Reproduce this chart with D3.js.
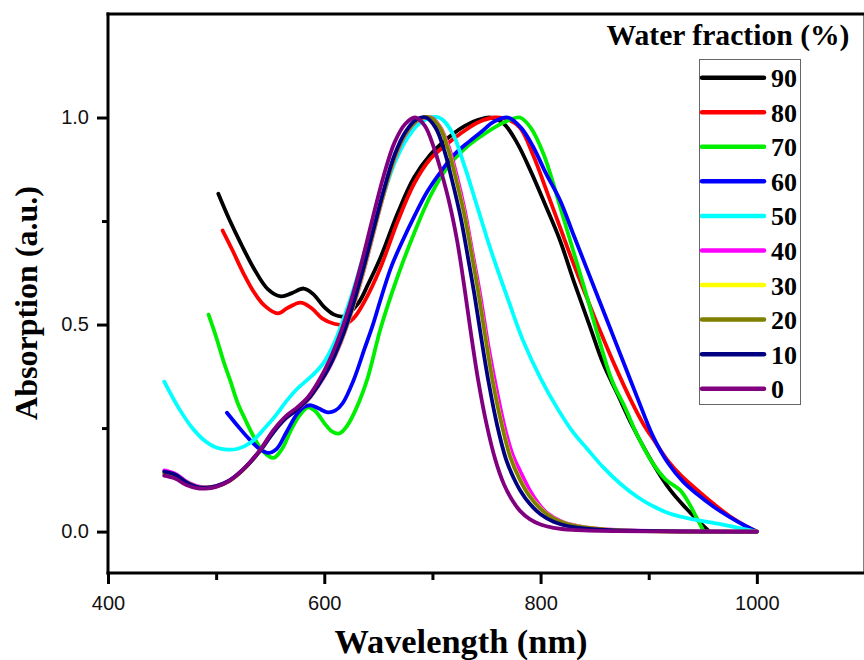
<!DOCTYPE html>
<html>
<head>
<meta charset="utf-8">
<script src="https://cdn.jsdelivr.net/npm/d3@7"></script>
<style>
  html, body { margin: 0; padding: 0; background: #fff; }
  svg { display: block; }
</style>
</head>
<body>
<svg id="chart" width="864" height="660"></svg>
<script>
// Normalised absorption spectra, [wavelength (nm), absorbance]
const spec90 = [[502,0.816],[512,0.755],[523,0.695],[535,0.635],[548,0.585],[560,0.568],[570,0.576],[581,0.587],[590,0.573],[600,0.542],[609,0.524],[618,0.52],[631,0.55],[641,0.6],[652,0.662],[668,0.77],[683,0.855],[698,0.91],[714,0.95],[730,0.98],[743,0.995],[754,1.0],[766,0.985],[778,0.94],[791,0.87],[805,0.785],[818,0.703],[830,0.61],[845,0.5],[858,0.405],[871,0.333],[885,0.255],[904,0.164],[920,0.1],[935,0.055],[945,0.028],[955,0.003]];
const spec80 = [[506,0.727],[515,0.68],[525,0.625],[535,0.578],[545,0.545],[557,0.527],[566,0.54],[578,0.553],[588,0.54],[598,0.515],[609,0.502],[618,0.5],[627,0.515],[637,0.555],[652,0.638],[668,0.75],[683,0.84],[698,0.9],[714,0.937],[728,0.965],[742,0.988],[757,1.0],[770,0.995],[781,0.975],[793,0.91],[806,0.82],[818,0.735],[830,0.65],[842,0.57],[855,0.485],[868,0.405],[883,0.32],[895,0.26],[905,0.22],[918,0.17],[930,0.135],[945,0.1],[960,0.067],[975,0.037],[990,0.013],[1000,0.0]];
const spec70 = [[493,0.524],[500,0.47],[507,0.41],[513,0.365],[520,0.31],[527,0.27],[535,0.228],[543,0.195],[553,0.178],[561,0.2],[569,0.244],[577,0.28],[585,0.3],[592,0.29],[600,0.262],[607,0.242],[614,0.237],[621,0.255],[630,0.3],[640,0.37],[652,0.49],[667,0.61],[683,0.72],[698,0.81],[714,0.88],[730,0.925],[745,0.955],[760,0.98],[772,0.995],[781,1.0],[791,0.975],[803,0.91],[818,0.785],[830,0.68],[842,0.575],[854,0.465],[866,0.365],[878,0.3],[890,0.23],[904,0.164],[916,0.125],[929,0.1],[938,0.065],[944,0.035],[950,0.005]];
const spec60 = [[510,0.287],[520,0.255],[530,0.225],[540,0.2],[548,0.19],[556,0.2],[565,0.24],[575,0.285],[582,0.302],[588,0.305],[595,0.297],[603,0.288],[610,0.292],[617,0.31],[627,0.365],[637,0.44],[645,0.5],[652,0.56],[662,0.64],[672,0.7],[683,0.76],[695,0.82],[708,0.87],[720,0.91],[733,0.94],[745,0.965],[757,0.99],[770,1.0],[782,0.975],[793,0.93],[805,0.865],[818,0.8],[830,0.72],[842,0.64],[854,0.56],[866,0.48],[878,0.4],[890,0.32],[904,0.23],[918,0.165],[932,0.12],[945,0.09],[960,0.06],[975,0.035],[990,0.013],[1000,0.0]];
const spec50 = [[452,0.362],[465,0.3],[478,0.25],[490,0.218],[500,0.203],[510,0.198],[520,0.2],[532,0.215],[545,0.25],[555,0.28],[565,0.315],[575,0.345],[585,0.368],[592,0.385],[600,0.41],[610,0.46],[620,0.53],[630,0.61],[640,0.7],[652,0.79],[665,0.89],[678,0.955],[690,0.99],[706,1.0],[718,0.965],[730,0.88],[742,0.78],[754,0.68],[770,0.56],[784,0.46],[800,0.37],[815,0.3],[830,0.24],[843,0.2],[858,0.155],[874,0.115],[890,0.083],[905,0.06],[920,0.043],[940,0.03],[966,0.018],[985,0.008],[1000,0.0]];
const spec40 = [[452,0.148],[462,0.14],[472,0.122],[482,0.11],[490,0.107],[500,0.11],[512,0.123],[525,0.15],[540,0.193],[553,0.24],[565,0.275],[575,0.295],[585,0.318],[594,0.35],[605,0.398],[615,0.455],[625,0.528],[635,0.615],[645,0.715],[655,0.815],[665,0.9],[675,0.958],[687,0.994],[699,1.0],[707,0.978],[715,0.93],[722,0.865],[730,0.775],[737,0.675],[744,0.575],[752,0.445],[760,0.335],[768,0.24],[775,0.18],[781,0.147],[790,0.1],[798,0.068],[806,0.045],[820,0.024],[840,0.011],[870,0.004],[1000,0.0]];
const spec30 = [[452,0.142],[462,0.136],[472,0.12],[482,0.108],[490,0.106],[500,0.109],[512,0.122],[525,0.149],[540,0.193],[553,0.241],[565,0.276],[575,0.296],[585,0.319],[594,0.351],[605,0.4],[615,0.457],[625,0.53],[635,0.618],[645,0.718],[655,0.817],[665,0.902],[675,0.96],[687,0.995],[698,1.0],[707,0.976],[715,0.922],[722,0.852],[730,0.762],[737,0.662],[743,0.572],[749,0.472],[756,0.362],[764,0.262],[772,0.182],[781,0.126],[790,0.086],[800,0.056],[812,0.032],[830,0.015],[860,0.005],[1000,0.0]];
const spec20 = [[452,0.14],[462,0.134],[472,0.118],[482,0.107],[490,0.105],[500,0.109],[512,0.122],[525,0.149],[540,0.194],[553,0.242],[565,0.277],[575,0.297],[585,0.32],[594,0.352],[605,0.401],[615,0.458],[625,0.531],[635,0.62],[645,0.72],[655,0.818],[665,0.903],[675,0.96],[687,0.995],[698,1.0],[707,0.975],[715,0.92],[722,0.85],[730,0.76],[737,0.66],[743,0.57],[749,0.47],[756,0.36],[764,0.26],[772,0.18],[781,0.125],[790,0.085],[800,0.055],[812,0.032],[830,0.015],[860,0.005],[1000,0.0]];
const spec10 = [[452,0.145],[462,0.138],[472,0.12],[482,0.108],[490,0.106],[500,0.11],[512,0.123],[525,0.15],[540,0.193],[553,0.24],[565,0.275],[575,0.295],[585,0.32],[594,0.352],[605,0.4],[615,0.46],[625,0.535],[635,0.625],[645,0.725],[655,0.825],[665,0.91],[675,0.965],[685,0.995],[694,1.0],[703,0.975],[711,0.92],[718,0.85],[726,0.76],[733,0.66],[739,0.57],[745,0.47],[752,0.36],[760,0.255],[768,0.175],[775,0.13],[781,0.1],[790,0.067],[800,0.042],[812,0.024],[830,0.011],[860,0.004],[1000,0.0]];
const spec0 = [[452,0.135],[462,0.128],[472,0.113],[482,0.105],[490,0.104],[500,0.108],[512,0.122],[525,0.15],[540,0.195],[553,0.245],[565,0.28],[575,0.3],[585,0.325],[594,0.36],[605,0.415],[615,0.48],[625,0.56],[635,0.655],[645,0.76],[655,0.86],[665,0.94],[675,0.985],[684,1.0],[693,0.98],[701,0.93],[708,0.87],[716,0.79],[723,0.7],[729,0.6],[735,0.49],[742,0.37],[750,0.26],[758,0.175],[766,0.115],[774,0.075],[781,0.05],[790,0.03],[800,0.017],[812,0.009],[830,0.004],[870,0.001],[1000,0.0]];

// Legend entries (water fraction, %) and their line colours
const fractions = ["90", "80", "70", "60", "50", "40", "30", "20", "10", "0"];
const colors = ["#000000", "#FF0000", "#00EE00", "#0000FF", "#00FFFF", "#FF00FF", "#FFFF00", "#808000", "#000080", "#800080"];
const spectra = [spec90, spec80, spec70, spec60, spec50, spec40, spec30, spec20, spec10, spec0];

// Axis ticks
const xMajor = [400, 600, 800, 1000];
const xMinor = [500, 700, 900];
const yMajor = [0.0, 0.5, 1.0];
const yMinor = [0.25, 0.75];

const xTitle = "Wavelength (nm)";
const yTitle = "Absorption (a.u.)";
const legendTitle = "Water fraction (%)";

const svg = d3.select("#chart");
const plotLeft = 108, plotRight = 865, plotTop = 14, plotBottom = 573;

const x = d3.scaleLinear().domain([400, 1100]).range([plotLeft, plotRight]);
const y = d3.scaleLinear().domain([-0.1, 1.25]).range([plotBottom, plotTop]);

svg.append("clipPath").attr("id", "clip")
  .append("rect").attr("x", plotLeft).attr("y", plotTop)
  .attr("width", plotRight - plotLeft).attr("height", plotBottom - plotTop);

const line = d3.line()
  .x(d => x(d[0]))
  .y(d => y(d[1]))
  .curve(d3.curveCatmullRom.alpha(0.5));

const curves = svg.append("g").attr("clip-path", "url(#clip)");
spectra.forEach((s, i) => {
  curves.append("path")
    .datum(s)
    .attr("d", line)
    .attr("fill", "none")
    .attr("stroke", colors[i])
    .attr("stroke-width", 3.8)
    .attr("stroke-linejoin", "round")
    .attr("stroke-linecap", "round");
});

// Frame
const frame = svg.append("g").attr("stroke", "#000").attr("stroke-width", 3).attr("fill", "none");
frame.append("line").attr("x1", plotLeft - 1.5).attr("x2", plotRight + 2).attr("y1", plotTop).attr("y2", plotTop);
frame.append("line").attr("x1", plotRight).attr("x2", plotRight).attr("y1", plotTop).attr("y2", plotBottom);

// Bottom axis
const xAxis = d3.axisBottom(x).tickValues(xMajor).tickSize(11).tickPadding(12).tickFormat(d3.format("d"));
const gx = svg.append("g").attr("transform", `translate(0,${plotBottom})`).call(xAxis);
const xMinorAxis = d3.axisBottom(x).tickValues(xMinor).tickSize(7).tickFormat("");
const gxm = svg.append("g").attr("transform", `translate(0,${plotBottom})`).call(xMinorAxis);

// Left axis
const yAxis = d3.axisLeft(y).tickValues(yMajor).tickSize(11).tickPadding(8).tickFormat(d3.format(".1f"));
const gy = svg.append("g").attr("transform", `translate(${plotLeft},0)`).call(yAxis);
const yMinorAxis = d3.axisLeft(y).tickValues(yMinor).tickSize(6).tickFormat("");
const gym = svg.append("g").attr("transform", `translate(${plotLeft},0)`).call(yMinorAxis);

[gx, gxm, gy, gym].forEach(g => {
  g.select(".domain").attr("stroke", "#000").attr("stroke-width", 3);
  g.selectAll(".tick line").attr("stroke", "#000").attr("stroke-width", 3);
  g.selectAll(".tick text")
    .attr("fill", "#111")
    .style("font-family", "'Liberation Sans', Arial, sans-serif")
    .style("font-size", "20px");
});
gx.select(".domain").attr("d", `M${plotLeft - 1.5},0H${plotRight + 2}`);
gy.select(".domain").attr("d", `M0,${plotBottom + 1.5}V${plotTop - 1.5}`);
gxm.select(".domain").remove();
gym.select(".domain").remove();

// Axis titles
svg.append("text")
  .attr("x", 461).attr("y", 653)
  .attr("text-anchor", "middle")
  .style("font-family", "'Liberation Serif', 'Times New Roman', serif")
  .style("font-weight", "bold")
  .style("font-size", "33px")
  .attr("textLength", 253)
  .attr("lengthAdjust", "spacingAndGlyphs")
  .text(xTitle);

svg.append("text")
  .attr("transform", "translate(37,303) rotate(-90)")
  .attr("text-anchor", "middle")
  .style("font-family", "'Liberation Serif', 'Times New Roman', serif")
  .style("font-weight", "bold")
  .style("font-size", "32px")
  .text(yTitle);

// Legend
svg.append("text")
  .attr("x", 728).attr("y", 45)
  .attr("text-anchor", "middle")
  .style("font-family", "'Liberation Serif', 'Times New Roman', serif")
  .style("font-weight", "bold")
  .style("font-size", "29px")
  .attr("textLength", 243)
  .attr("lengthAdjust", "spacingAndGlyphs")
  .text(legendTitle);

const legend = svg.append("g");
legend.append("rect")
  .attr("x", 699.5).attr("y", 59.5).attr("width", 101).attr("height", 345)
  .attr("fill", "#fff").attr("stroke", "#666").attr("stroke-width", 1);

const rowY = d3.scalePoint().domain(fractions).range([77.7, 388.7]);
fractions.forEach((f, i) => {
  const yy = rowY(f);
  legend.append("line")
    .attr("x1", 702).attr("x2", 764).attr("y1", yy).attr("y2", yy)
    .attr("stroke", colors[i]).attr("stroke-width", 4.5).attr("stroke-linecap", "round");
  legend.append("text")
    .attr("x", 771).attr("y", yy + 9.5)
    .style("font-family", "'Liberation Serif', 'Times New Roman', serif")
    .style("font-weight", "bold")
    .style("font-size", "26px")
    .text(f);
});
</script>
</body>
</html>
